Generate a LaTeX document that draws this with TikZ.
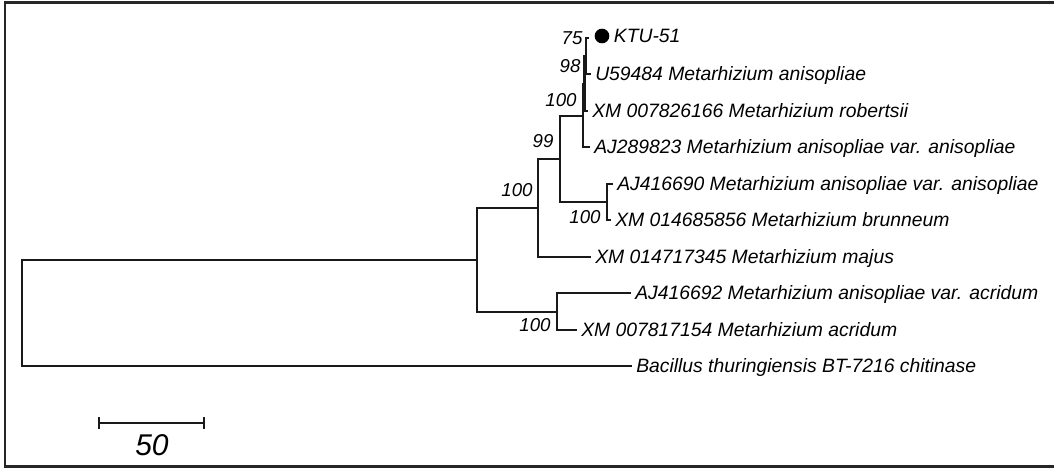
\documentclass[tikz,border=0pt]{standalone}
\usepackage{fontspec}
\setmainfont{Liberation Sans}
\usetikzlibrary{arrows.meta,positioning}

\begin{document}
\begin{tikzpicture}[
    x=0.75pt, y=-0.75pt,
    branch/.style={draw=black!90, line width=1.7pt},
    leaf/.style={anchor=west, inner xsep=3pt, inner ysep=0pt, text height=10.4pt, text depth=0pt, font=\fontsize{14.5}{16}\selectfont\itshape},
    boot/.style={inner sep=0pt, font=\fontsize{14}{15}\selectfont\itshape},
    frame/.style={draw=black!85, line width=1.8pt}
]
\useasboundingbox (0,0) rectangle (1054,468);

% Frame (open on the right)
\draw[frame] (1054,2.5) -| (5,466.5) -- (1054,466.5);

% Internal nodes
\coordinate (e) at (586,56);
\coordinate (f) at (584.5,84);
\coordinate (c) at (583,116);
\coordinate (b) at (560,159);
\coordinate (d) at (607,202);
\coordinate (a) at (538,208);
\coordinate (g) at (557,312);
\coordinate (h) at (477,260);
\coordinate (root) at (22,313);

% Leaves
\coordinate (ktutip) at (589,38);
\node[circle, fill=black, inner sep=0pt, minimum size=11pt] (dot) at (602,36) {};
\node[leaf, right=0pt of dot] (ktu) {KTU-51};
\node[leaf] (u59) at (591,74) {U59484 Metarhizium anisopliae};
\node[leaf] (rob) at (588,111) {XM 007826166 Metarhizium robertsii};
\node[leaf] (aj289) at (590,147) {AJ289823 Metarhizium anisopliae var. anisopliae};
\node[leaf] (aj690) at (613,184) {AJ416690 Metarhizium anisopliae var. anisopliae};
\node[leaf] (brun) at (611,220) {XM 014685856 Metarhizium brunneum};
\node[leaf] (majus) at (591,257) {XM 014717345 Metarhizium majus};
\node[leaf] (aj692) at (631,293) {AJ416692 Metarhizium anisopliae var. acridum};
\node[leaf] (acri) at (577,330) {XM 007817154 Metarhizium acridum};
\node[leaf] (bac) at (632,366) {Bacillus thuringiensis BT-7216 chitinase};

% Branches
\draw[branch] (ktutip) -| (e) |- (u59.west);
\draw[branch] (e) -| (f) |- (rob.west);
\draw[branch] (f) -| (c) |- (aj289.west);
\draw[branch] (aj690.west) -| (d) |- (brun.west);
\draw[branch] (c) -| (b) |- (d);
\draw[branch] (b) -| (a) |- (majus.west);
\draw[branch] (aj692.west) -| (g) |- (acri.west);
\draw[branch] (a) -| (h) |- (g);
\draw[branch] (h) -| (root) |- (bac.west);

% Bootstrap values
\node[boot] (bs-e) at (572,38) {75};
\node[boot] (bs-f) at (570,66) {98};
\node[boot] (bs-c) at (561,100) {100};
\node[boot] (bs-b) at (543,141) {99};
\node[boot] (bs-a) at (517,190) {100};
\node[boot] (bs-d) at (585,217) {100};
\node[boot] (bs-g) at (535,325) {100};

% Scale bar
\coordinate (sb-l) at (98,423);
\coordinate (sb-r) at (205,423);
\draw[branch, {Bar[width=9pt]}-{Bar[width=9pt]}] (sb-l) -- (sb-r);
\node[font=\fontsize{22.5}{24}\selectfont\itshape] (sb) at (152,445) {50};

\end{tikzpicture}
\end{document}
